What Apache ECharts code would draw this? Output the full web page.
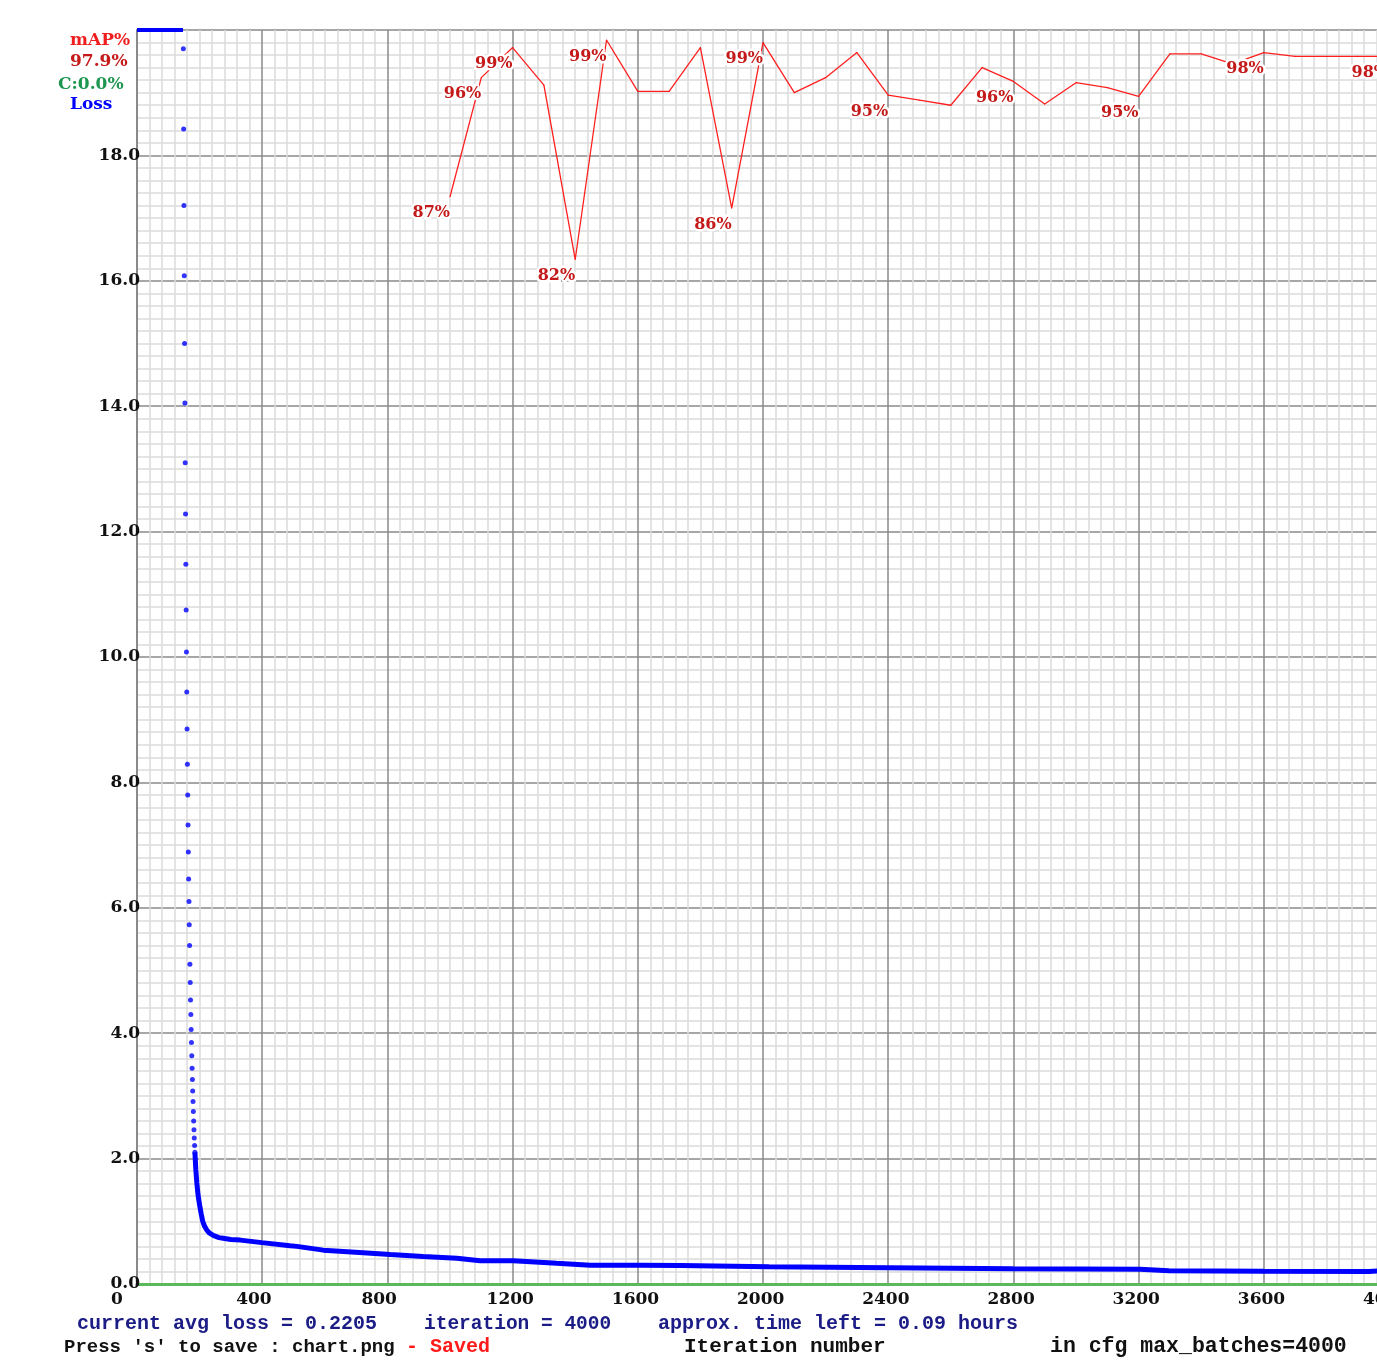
<!DOCTYPE html>
<html><head><meta charset="utf-8">
<script src="https://cdn.jsdelivr.net/npm/echarts@6/dist/echarts.min.js"></script>
<style>html,body{margin:0;padding:0;background:#fff}#c{width:1377px;height:1360px}</style>
</head><body><div id="c"></div>
<script>
// ---- data ----
const maxBatches = 4000;
const lossAxisMax = 20;
// iterations whose avg loss was above the axis max (drawn pinned to the top)
const lossClipIters = [0, 147];
const lossIters = [148,149,150,151,152,153,154,155,156,157,158,159,160,161,162,163,164,165,166,167,168,169,170,171,172,173,174,175,176,177,178,179,180,181,182,183,184,185,
  188,191,195,200,205,210,216,223,232,245,262,275,300,330,399,489,511,595,723,809,914,1022,1096,1202,1341,1448,1607,1736,2019,2403,2799,3204,3297,3600,3936,4000];
const lossValues = [19.70,18.42,17.20,16.08,15.00,14.05,13.10,12.28,11.48,10.75,10.08,9.44,8.85,8.29,7.80,7.32,6.89,6.46,6.10,5.73,5.40,5.10,4.81,4.53,4.30,4.06,3.85,3.64,3.44,3.26,3.08,2.91,2.75,2.60,2.46,2.33,2.21,2.10,
  1.82,1.62,1.42,1.26,1.12,1.00,0.92,0.86,0.81,0.77,0.74,0.73,0.71,0.70,0.66,0.61,0.60,0.54,0.50,0.47,0.44,0.41,0.37,0.37,0.33,0.30,0.30,0.295,0.276,0.26,0.244,0.234,0.212,0.205,0.20,0.2205];
const dotsUntilIter = 185;
const mapIters = [1000,1100,1200,1300,1400,1500,1600,1700,1800,1900,2000,2100,2200,2300,2400,2500,2600,2700,2800,2900,3000,3100,3200,3300,3400,3500,3600,3700,3800,3900,4000];
const mapValues = [86.7,96.2,98.6,95.6,81.7,99.2,95.1,95.1,98.6,85.8,99.0,95.0,96.2,98.2,94.8,94.4,94.0,97.0,95.9,94.1,95.8,95.4,94.7,98.1,98.1,97.3,98.2,97.9,97.9,97.9,97.9];
const mapLabelIters = [1000,1100,1200,1400,1500,1900,2000,2400,2800,3200,3600,4000];
const contrastValue = 0.0;
const timeLeftHours = 0.09;

// ---- chart ----
const serif = 'DejaVu Serif';
const mono = 'Liberation Mono';
const chart = echarts.init(document.getElementById('c'), null, {renderer: 'canvas'});

const steep = [], tail = [];
lossIters.forEach((it, i) => {
  if (it <= dotsUntilIter) steep.push([it, lossValues[i]]);
  if (it >= dotsUntilIter) tail.push([it, lossValues[i]]);
});
const mapData = mapIters.map((it, i) => {
  const d = {value: [it, mapValues[i]]};
  if (mapLabelIters.includes(it)) d.label = {show: true};
  return d;
});
const lastIter = lossIters[lossIters.length - 1];
const lastLoss = lossValues[lossValues.length - 1];
const lastMap = mapValues[mapValues.length - 1];

const navy = '#1c1c86';
const txt = (x, y, text, fill, font) => ({type: 'text', x: x, y: y, silent: true,
  style: {text: text, fill: fill, font: font, verticalAlign: 'middle', align: 'left'}});

chart.setOption({
  animation: false,
  backgroundColor: '#ffffff',
  grid: {left: 137, top: 30, right: -12, bottom: 76, containLabel: false, outerBoundsMode: 'none'},
  xAxis: {
    type: 'value', min: 0, max: maxBatches, interval: 400,
    axisLine: {show: true, onZero: false, lineStyle: {color: '#5cb85c', width: 3}},
    axisTick: {show: false},
    minorTick: {show: false, splitNumber: 10},
    splitLine: {show: true, lineStyle: {color: '#8a8a8a', width: 1.5}},
    minorSplitLine: {show: true, lineStyle: {color: '#dcdcdc', width: 1.5}},
    axisLabel: {
      margin: 7,
      formatter: v => '{a|' + v + '}',
      rich: {a: {width: 52, align: 'left', fontFamily: serif, fontWeight: 'bold', fontSize: 17, color: '#111'}}
    }
  },
  yAxis: [{
    type: 'value', min: 0, max: lossAxisMax, interval: 2,
    axisLine: {show: true, lineStyle: {color: '#8a8a8a', width: 2}},
    axisTick: {show: false},
    minorTick: {show: false, splitNumber: 10},
    splitLine: {show: true, lineStyle: {color: '#8a8a8a', width: 1.5}},
    minorSplitLine: {show: true, lineStyle: {color: '#dcdcdc', width: 1.5}},
    axisLabel: {
      margin: -3,
      formatter: v => (v >= lossAxisMax ? '' : v.toFixed(1)),
      fontFamily: serif, fontWeight: 'bold', fontSize: 17, color: '#111'
    }
  }, {
    type: 'value', min: 0, max: 100, show: false
  }],
  series: [
    {
      name: 'LossClip', type: 'line', clip: false, silent: true, symbol: 'none',
      data: lossClipIters.map(it => [it, lossAxisMax]),
      lineStyle: {color: '#0000ff', width: 4}
    },
    {
      name: 'LossDots', type: 'scatter', silent: true, symbol: 'circle', symbolSize: 5,
      data: steep, itemStyle: {color: '#0000ff'}
    },
    {
      name: 'Loss', type: 'line', silent: true, symbol: 'none',
      data: tail, lineStyle: {color: '#0000ff', width: 5}
    },
    {
      name: 'mAP', type: 'line', yAxisIndex: 1, silent: true,
      symbol: 'circle', symbolSize: 1, showSymbol: true,
      itemStyle: {color: '#ff0000'},
      lineStyle: {color: '#ff2020', width: 1.3},
      data: mapData,
      label: {
        show: false, position: [-37, 25], align: 'left', verticalAlign: 'bottom',
        formatter: p => Math.round(p.value[1]) + '%',
        fontFamily: serif, fontWeight: 'bold', fontSize: 16, color: '#c41a1a',
        textBorderColor: '#ffffff', textBorderWidth: 5
      },
      labelLayout: {hideOverlap: false}
    }
  ],
  graphic: [
    txt(70, 41, 'mAP%', '#f01e1e', 'bold 17px ' + serif),
    txt(70, 62, lastMap.toFixed(1) + '%', '#c41a1a', 'bold 17px ' + serif),
    txt(58, 85, 'C:' + contrastValue.toFixed(1) + '%', '#1e9650', 'bold 17px ' + serif),
    txt(70, 105, 'Loss', '#0000ff', 'bold 17px ' + serif),
    txt(77, 1324, 'current avg loss = ' + lastLoss.toFixed(4), navy, 'bold 20px ' + mono),
    txt(424, 1324, 'iteration = ' + lastIter, navy, 'bold 19.5px ' + mono),
    txt(658, 1324, 'approx. time left = ' + timeLeftHours.toFixed(2) + ' hours', navy, 'bold 20px ' + mono),
    txt(64, 1347, "Press 's' to save : chart.png", '#111111', 'bold 19px ' + mono),
    txt(406, 1347, '- Saved', '#ff1a1a', 'bold 20px ' + mono),
    txt(684, 1347, 'Iteration number', '#111111', 'bold 21px ' + mono),
    txt(1050, 1347, 'in cfg max_batches=' + maxBatches, '#111111', 'bold 21.5px ' + mono)
  ]
});
</script>
</body></html>
